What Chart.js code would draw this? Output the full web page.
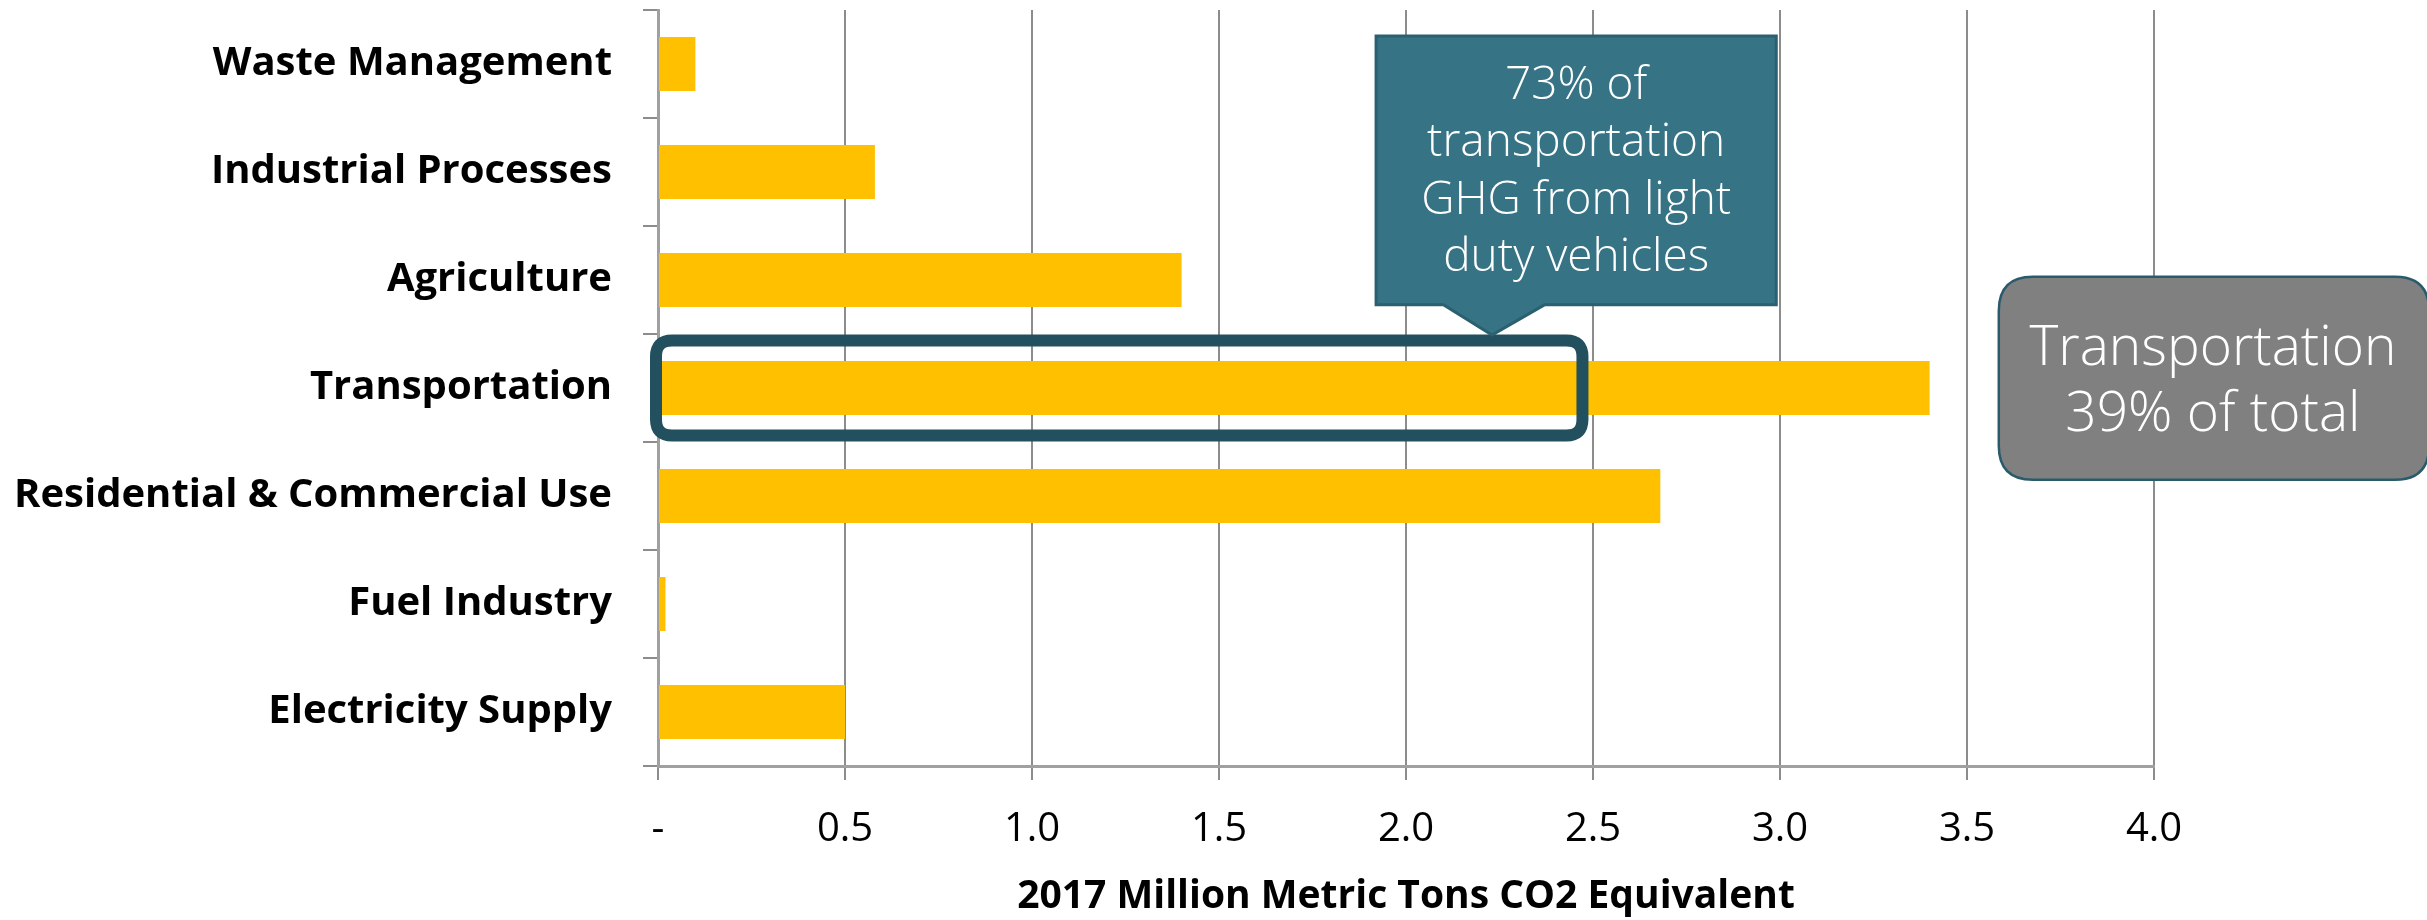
<!DOCTYPE html>
<html>
<head>
<meta charset="utf-8">
<script src="https://cdn.jsdelivr.net/npm/chart.js@4"></script>
<style>
  html, body { margin: 0; padding: 0; background: #ffffff; }
  #wrap { width: 2427px; height: 920px; }
</style>
</head>
<body>
<div id="wrap"><canvas id="ghgChart" width="2427" height="920"></canvas></div>
<script>
// sector emissions, 2017 (million metric tons CO2e)
const sectors = ['Waste Management', 'Industrial Processes', 'Agriculture', 'Transportation',
                 'Residential & Commercial Use', 'Fuel Industry', 'Electricity Supply'];
const emissions = [0.10, 0.58, 1.40, 3.40, 2.68, 0.02, 0.50];
const xTicks = [0, 0.5, 1.0, 1.5, 2.0, 2.5, 3.0, 3.5, 4.0];

const calloutLines = ['73% of', 'transportation', 'GHG from light', 'duty vehicles'];
const totalLines = ['Transportation', '39% of total'];
const lightDutyShare = 0.727; // portion of the transportation bar boxed

const SANS = '"Open Sans", "DejaVu Sans", sans-serif';

function roundRect(ctx, x, y, w, h, r) {
    ctx.beginPath();
    ctx.moveTo(x + r, y);
    ctx.lineTo(x + w - r, y);
    ctx.quadraticCurveTo(x + w, y, x + w, y + r);
    ctx.lineTo(x + w, y + h - r);
    ctx.quadraticCurveTo(x + w, y + h, x + w - r, y + h);
    ctx.lineTo(x + r, y + h);
    ctx.quadraticCurveTo(x, y + h, x, y + h - r);
    ctx.lineTo(x, y + r);
    ctx.quadraticCurveTo(x, y, x + r, y);
    ctx.closePath();
}

// draws the highlight box, the teal callout and the grey summary box
const notesPlugin = {
    id: 'notes',
    afterDatasetsDraw(chart) {
        const ctx = chart.ctx;
        const x = chart.scales.x;
        const area = chart.chartArea;
        const band = (area.bottom - area.top) / sectors.length;
        const yAt = (b) => area.top + b * band;
        const tIdx = sectors.indexOf('Transportation');

        ctx.save();

        // dark outline round the light duty part of transportation
        const hx0 = x.getPixelForValue(0) - 2;
        const hx1 = x.getPixelForValue(emissions[tIdx] * lightDutyShare);
        const hy0 = yAt(tIdx + 0.06);
        const hy1 = yAt(tIdx + 0.94);
        roundRect(ctx, hx0, hy0, hx1 - hx0, hy1 - hy0, 16);
        ctx.lineWidth = 12;
        ctx.strokeStyle = '#23505F';
        ctx.stroke();

        // teal callout with pointer
        const bx0 = x.getPixelForValue(1.92);
        const bx1 = x.getPixelForValue(2.99);
        const by0 = yAt(0.24);
        const by1 = yAt(2.73);
        const px0 = x.getPixelForValue(2.10);
        const px1 = x.getPixelForValue(2.37);
        const tipX = x.getPixelForValue(2.23);
        const tipY = yAt(tIdx + 0.01);
        ctx.beginPath();
        ctx.moveTo(bx0, by0);
        ctx.lineTo(bx1, by0);
        ctx.lineTo(bx1, by1);
        ctx.lineTo(px1, by1);
        ctx.lineTo(tipX, tipY);
        ctx.lineTo(px0, by1);
        ctx.lineTo(bx0, by1);
        ctx.closePath();
        ctx.fillStyle = '#367385';
        ctx.fill();
        ctx.lineWidth = 3;
        ctx.strokeStyle = '#2A6070';
        ctx.stroke();

        ctx.fillStyle = '#ffffff';
        ctx.textAlign = 'center';
        ctx.textBaseline = 'alphabetic';
        ctx.font = '300 46px ' + SANS;
        const cx = (bx0 + bx1) / 2;
        calloutLines.forEach((line, i) => {
            ctx.fillText(line, cx, by0 + 63 + i * 57.5);
        });

        // grey summary box, runs off the right edge
        const gx0 = x.getPixelForValue(3.585);
        const gx1 = chart.width + 2;
        const gy0 = yAt(2.47);
        const gy1 = yAt(4.35);
        roundRect(ctx, gx0, gy0, gx1 - gx0, gy1 - gy0, 34);
        ctx.fillStyle = '#808080';
        ctx.fill();
        ctx.lineWidth = 2.5;
        ctx.strokeStyle = '#2A5B6B';
        ctx.stroke();

        ctx.fillStyle = '#ffffff';
        ctx.font = '300 55px ' + SANS;
        const gcx = (gx0 + chart.width) / 2;
        totalLines.forEach((line, i) => {
            ctx.fillText(line, gcx, gy0 + 88 + i * 66);
        });

        ctx.restore();
    }
};

const ghgChart = new Chart(document.getElementById('ghgChart').getContext('2d'), {
    type: 'bar',
    data: {
        labels: sectors,
        datasets: [{
            data: emissions,
            backgroundColor: '#FFC000',
            borderWidth: 0,
            barPercentage: 0.5,
            categoryPercentage: 1.0
        }]
    },
    options: {
        indexAxis: 'y',
        responsive: false,
        animation: false,
        devicePixelRatio: 1,
        layout: { padding: { left: 0, right: 273, top: 10, bottom: 0 } },
        plugins: {
            legend: { display: false },
            tooltip: { enabled: false }
        },
        scales: {
            x: {
                min: 0,
                max: 4,
                afterBuildTicks: (scale) => { scale.ticks = xTicks.map(v => ({ value: v })); },
                afterFit: (scale) => { scale.height = 154; },
                grid: { color: '#8C8C8C', lineWidth: 2, tickLength: 14, drawOnChartArea: true },
                border: { display: true, color: '#A0A0A0', width: 3 },
                ticks: {
                    color: '#000000',
                    font: { family: SANS, size: 40 },
                    padding: 26,
                    maxRotation: 0,
                    callback: (v) => v === 0 ? '-' : Number(v).toFixed(1)
                },
                title: {
                    display: true,
                    text: '2017 Million Metric Tons CO2 Equivalent',
                    color: '#000000',
                    font: { family: SANS, size: 39, weight: 'bold' },
                    padding: { top: 0, bottom: 0 }
                }
            },
            y: {
                afterFit: (scale) => {
                    scale.width = 658;
                    scale.paddingTop = 0;
                    scale.paddingBottom = 0;
                },
                grid: { offset: true, drawOnChartArea: false, color: '#8C8C8C', lineWidth: 2, tickLength: 15 },
                border: { display: true, color: '#A0A0A0', width: 3 },
                ticks: {
                    color: '#000000',
                    font: { family: SANS, size: 40, weight: 'bold' },
                    padding: 31
                }
            }
        }
    },
    plugins: [notesPlugin]
});
</script>
</body>
</html>
